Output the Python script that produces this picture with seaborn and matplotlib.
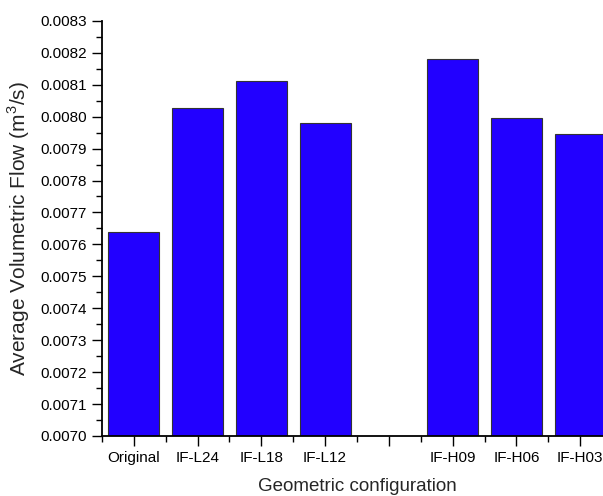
import numpy as np
import pandas as pd
import matplotlib
matplotlib.use('Agg')
import matplotlib.pyplot as plt
import seaborn as sns
from matplotlib.ticker import MultipleLocator, FixedLocator, FormatStrFormatter

# data
configs = ['Original', 'IF-L24', 'IF-L18', 'IF-L12', ' ', 'IF-H09', 'IF-H06', 'IF-H03']
flow = [0.007639, 0.008027, 0.008112, 0.007980, np.nan, 0.008180, 0.007997, 0.007945]

df = pd.DataFrame({'config': configs, 'flow': flow})

sns.set_style('ticks')
plt.rcParams['font.family'] = ['Liberation Sans', 'DejaVu Sans']
plt.rcParams['mathtext.fontset'] = 'custom'
plt.rcParams['mathtext.rm'] = 'Liberation Sans'

fig = plt.figure(figsize=(6.03, 4.96), dpi=100)
ax = fig.add_axes([0.169, 0.121, 0.846, 0.837])

sns.barplot(data=df.dropna(), x='config', y='flow', order=configs, color='#2200ff',
            saturation=1, width=0.8, edgecolor='#333333', linewidth=0.8, ax=ax)

ax.set_xlim(-0.5, 7.5)
ax.set_ylim(0.0070, 0.0083)
ax.yaxis.set_major_locator(MultipleLocator(0.0001))
ax.yaxis.set_minor_locator(MultipleLocator(0.00005))
ax.yaxis.set_major_formatter(FormatStrFormatter('%.4f'))
ax.xaxis.set_minor_locator(FixedLocator(np.arange(-0.5, 8, 1)))

ax.tick_params(axis='both', which='major', direction='out', length=7, width=1.0,
               labelsize=11, color='black', labelcolor='black', pad=4)
ax.tick_params(axis='both', which='minor', direction='out', length=4, width=1.0,
               color='black')

for s in ['top', 'right']:
    ax.spines[s].set_visible(False)
for s in ['left', 'bottom']:
    ax.spines[s].set_linewidth(1.3)
    ax.spines[s].set_color('black')

ax.set_xlabel('Geometric configuration', fontsize=13.5, labelpad=9)
ax.set_ylabel('Average Volumetric Flow (m$^3$/s)', fontsize=15, labelpad=6)

fig.savefig('out.png', dpi=100)
